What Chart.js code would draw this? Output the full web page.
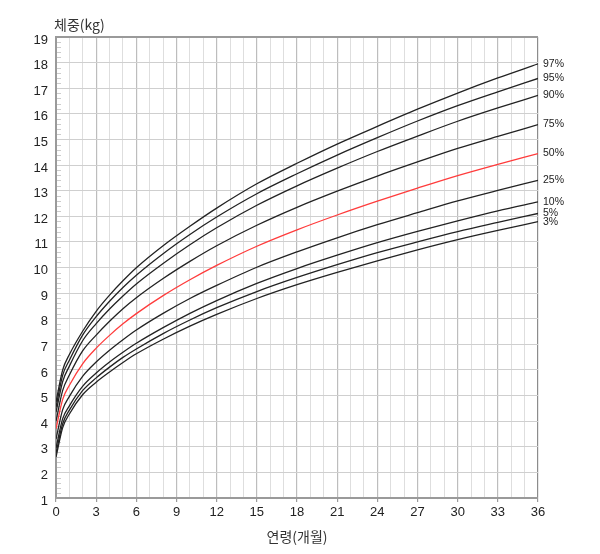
<!DOCTYPE html>
<html>
<head>
<meta charset="utf-8">
<script src="https://cdn.jsdelivr.net/npm/chart.js@4.4.0/dist/chart.umd.min.js"></script>
<style>
    html, body { margin: 0; padding: 0; background: #fff; }
    #wrap { width: 600px; height: 554px; }
</style>
</head>
<body>
<div id="wrap"><canvas id="growth" width="600" height="554"></canvas></div>
<script>
// 체중 백분위 곡선 (0-36개월)
const months = [0, 0.5, 1, 2, 3, 4, 5, 6, 8, 10, 12, 15, 18, 21, 24, 27, 30, 33, 36];

const p97 = [4.75, 6.0, 6.6, 7.52, 8.29, 8.92, 9.48, 9.99, 10.85, 11.61, 12.32, 13.27, 14.07, 14.82, 15.51, 16.18, 16.81, 17.40, 17.95];
const p95 = [4.55, 5.8, 6.38, 7.37, 8.08, 8.68, 9.22, 9.70, 10.54, 11.29, 11.97, 12.88, 13.66, 14.39, 15.07, 15.72, 16.32, 16.86, 17.38];
const p90 = [4.35, 5.55, 6.15, 7.15, 7.81, 8.38, 8.89, 9.36, 10.16, 10.89, 11.55, 12.43, 13.19, 13.88, 14.53, 15.13, 15.71, 16.23, 16.72];
const p75 = [4.0, 5.2, 5.8, 6.75, 7.36, 7.90, 8.39, 8.82, 9.57, 10.24, 10.85, 11.65, 12.35, 12.98, 13.57, 14.12, 14.65, 15.12, 15.58];
const p50 = [3.7, 4.85, 5.4, 6.25, 6.85, 7.35, 7.8, 8.2, 8.9, 9.52, 10.08, 10.83, 11.47, 12.05, 12.59, 13.1, 13.59, 14.03, 14.45];
const p25 = [3.3, 4.45, 4.97, 5.76, 6.31, 6.77, 7.18, 7.56, 8.21, 8.79, 9.30, 10.01, 10.61, 11.16, 11.67, 12.14, 12.60, 13.01, 13.40];
const p10 = [2.95, 4.1, 4.6, 5.37, 5.88, 6.31, 6.69, 7.04, 7.65, 8.21, 8.71, 9.38, 9.96, 10.48, 10.97, 11.41, 11.82, 12.21, 12.56];
const p5  = [2.75, 3.9, 4.43, 5.2, 5.69, 6.11, 6.49, 6.82, 7.42, 7.95, 8.43, 9.06, 9.61, 10.11, 10.58, 11.0, 11.40, 11.76, 12.11];
const p3  = [2.6, 3.75, 4.28, 5.04, 5.52, 5.92, 6.29, 6.63, 7.2, 7.71, 8.17, 8.79, 9.33, 9.81, 10.26, 10.69, 11.09, 11.45, 11.79];

const percentLabels = ['97%', '95%', '90%', '75%', '50%', '25%', '10%', '5%', '3%'];
const percentSeries = [p97, p95, p90, p75, p50, p25, p10, p5, p3];

const xTicks = [0, 3, 6, 9, 12, 15, 18, 21, 24, 27, 30, 33, 36];
const yTicks = [1, 2, 3, 4, 5, 6, 7, 8, 9, 10, 11, 12, 13, 14, 15, 16, 17, 18, 19];

const FONT = "'Liberation Sans', Arial, 'Noto Sans CJK KR', sans-serif";
const KFONT = "'Noto Sans CJK KR', 'Liberation Sans', sans-serif";

const datasets = percentSeries.map((series, idx) => ({
    label: percentLabels[idx],
    data: months.map((m, i) => ({ x: m, y: series[i] })),
    borderColor: percentLabels[idx] === '50%' ? '#ff3b3b' : '#222222',
    borderWidth: 1.3,
    pointRadius: 0,
    cubicInterpolationMode: 'monotone',
    fill: false
}));

const decor = {
    id: 'decor',
    beforeDatasetsDraw(chart) {
        const ctx = chart.ctx;
        const area = chart.chartArea;
        const y = chart.scales.y;
        ctx.save();
        // minor ticks every 0.2 kg on the inside of the left axis
        ctx.strokeStyle = '#cccccc';
        ctx.lineWidth = 1;
        for (let i = 5; i < 95; i++) {
            if (i % 5 === 0) continue;
            const py = Math.round(y.getPixelForValue(i / 5)) + 0.5;
            ctx.beginPath();
            ctx.moveTo(area.left + 1, py);
            ctx.lineTo(area.left + 5, py);
            ctx.stroke();
        }
        ctx.restore();
    },
    afterDatasetsDraw(chart) {
        const ctx = chart.ctx;
        const area = chart.chartArea;
        ctx.save();
        ctx.fillStyle = '#222';
        ctx.font = '10.5px ' + FONT;
        ctx.textAlign = 'left';
        ctx.textBaseline = 'middle';
        chart.data.datasets.forEach((ds, i) => {
            const pts = chart.getDatasetMeta(i).data;
            const last = pts[pts.length - 1];
            ctx.fillText(ds.label, area.right + 5, last.y);
        });

        ctx.font = '14px ' + KFONT;
        ctx.fillStyle = '#333';
        ctx.fillText('체중(kg)', 54, 25);
        ctx.textAlign = 'center';
        ctx.fillText('연령(개월)', (area.left + area.right) / 2, 537);
        ctx.restore();
    }
};

new Chart(document.getElementById('growth'), {
    type: 'line',
    data: { datasets },
    options: {
        responsive: false,
        animation: false,
        devicePixelRatio: 1,
        layout: { padding: { left: 0, right: 62, top: 37, bottom: 0 } },
        plugins: {
            legend: { display: false },
            tooltip: { enabled: false }
        },
        scales: {
            x: {
                type: 'linear',
                min: 0,
                max: 36,
                afterFit(scale) { scale.height = 56; },
                afterBuildTicks(scale) {
                    scale.ticks = [];
                    for (let m = 0; m <= 36; m++) scale.ticks.push({ value: m });
                },
                border: { color: '#9a9a9a', width: 2 },
                grid: {
                    color: c => (c.tick.value === 36 ? '#8c8c8c' : (c.tick.value % 3 === 0 ? '#bdbdbd' : '#dedede')),
                    lineWidth: c => (c.tick.value % 3 === 0 ? 1.2 : 1),
                    tickLength: 4,
                    tickColor: c => (xTicks.includes(c.tick.value) ? '#9a9a9a' : 'rgba(0,0,0,0)')
                },
                ticks: {
                    autoSkip: false,
                    maxRotation: 0,
                    padding: 3,
                    color: '#222',
                    font: { size: 13, family: FONT },
                    callback: v => (xTicks.includes(v) ? String(v) : '')
                }
            },
            y: {
                type: 'linear',
                min: 1,
                max: 19,
                afterFit(scale) { scale.width = 56; },
                afterBuildTicks(scale) {
                    scale.ticks = yTicks.map(v => ({ value: v }));
                },
                border: { color: '#9a9a9a', width: 2 },
                grid: {
                    color: c => (c.tick.value === 19 ? '#9a9a9a' : '#cfcfcf'),
                    lineWidth: c => (c.tick.value === 19 ? 2 : 1),
                    drawTicks: false
                },
                ticks: {
                    padding: 8,
                    labelOffset: 3,
                    color: '#222',
                    font: { size: 13, family: FONT },
                    callback: v => String(v)
                }
            }
        }
    },
    plugins: [decor]
});
</script>
</body>
</html>
